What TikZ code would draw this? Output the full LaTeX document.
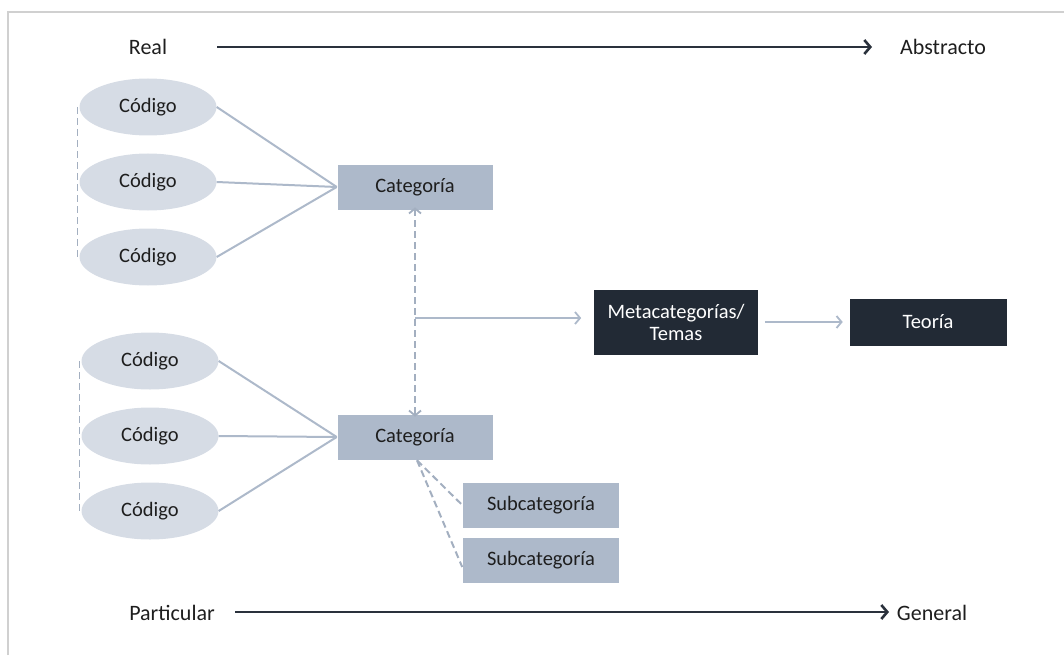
\documentclass[tikz,border=0pt]{standalone}
\usepackage{fontspec}
\setmainfont{Carlito}
\usetikzlibrary{arrows.meta,shapes.geometric}

\definecolor{framegray}{HTML}{D0D0D0}
\definecolor{codefill}{HTML}{D6DCE5}
\definecolor{catfill}{HTML}{ADB9CA}
\definecolor{darkbox}{HTML}{222A35}
\definecolor{axisline}{HTML}{2A313C}
\definecolor{linkline}{HTML}{ADB9CA}
\definecolor{dashline}{HTML}{A3AFC0}
\definecolor{txt}{HTML}{1E1E1E}

\tikzset{
  lbl/.style={font=\fontsize{22}{26}\selectfont, text=txt, inner sep=0pt},
  boxfont/.style={font=\fontsize{20.5}{24}\selectfont},
  codenode/.style={ellipse, fill=codefill, minimum width=137pt, minimum height=57pt,
    inner sep=0pt, boxfont, text=txt},
  catbox/.style={rectangle, fill=catfill, draw=white, line width=0.6pt,
    minimum width=156pt, minimum height=46pt, inner sep=0pt, boxfont, text=txt},
  darkbox/.style={rectangle, fill=darkbox, draw=white, line width=0.6pt,
    inner sep=0pt, boxfont, text=white, align=center},
  axis/.style={draw=axisline, line width=2.8pt, -{Straight Barb[length=6pt,width=14pt,line width=2.6pt]}},
  link/.style={draw=linkline, line width=2pt},
  dlink/.style={draw=dashline, line width=2pt, dash pattern=on 7pt off 4pt},
  tip/.style={-{Straight Barb[length=5pt,width=12pt,line width=1.8pt]}},
}

\begin{document}
\begin{tikzpicture}[x=1pt,y=-1pt]
  \useasboundingbox (0,0) rectangle (1064,655);
  % page frame
  \draw[framegray, line width=1.2pt] (8,655) -- (8,12) -- (1064,12);

  % axis labels and arrows
  \node[lbl] (real) at (148,47) {Real};
  \node[lbl] (abstracto) at (943,47) {Abstracto};
  \coordinate (ra) at (217,47);
  \coordinate (rb) at (872,47);
  \draw[axis] (ra) -- (rb);

  \node[lbl] (particular) at (172,613) {Particular};
  \node[lbl] (general) at (932,613) {General};
  \coordinate (pa) at (235,612);
  \coordinate (pb) at (889,612);
  \draw[axis] (pa) -- (pb);

  % upper group of codes
  \node[codenode] (c1) at (148,107) {Código};
  \node[codenode] (c2) at (148,182) {Código};
  \node[codenode] (c3) at (148,257) {Código};
  \node[catbox] (cat1) at (415,187) {Categoría};

  % lower group of codes
  \node[codenode] (c4) at (150,361) {Código};
  \node[codenode] (c5) at (150,436) {Código};
  \node[codenode] (c6) at (150,511) {Código};
  \node[catbox] (cat2) at (415,437) {Categoría};

  % subcategories
  \node[catbox, minimum width=157pt] (sub1) at (541,505) {Subcategoría};
  \node[catbox, minimum width=157pt] (sub2) at (541,560) {Subcategoría};

  % meta level
  \node[darkbox, minimum width=165pt, minimum height=66pt] (meta) at (676,322) {Metacategorías/\\[-2pt]Temas};
  \node[darkbox, minimum width=158pt, minimum height=48pt] (teoria) at (928,322) {Teoría};

  % code-to-category links
  \foreach \c in {c1,c2,c3} \draw[link] (\c.east) -- (cat1.west);
  \foreach \c in {c4,c5,c6} \draw[link] (\c.east) -- (cat2.west);

  % dashed brackets joining each group of codes
  \draw[dlink, line width=1.6pt] ([xshift=-2pt]c1.west) -- ([xshift=-2pt]c3.west);
  \draw[dlink, line width=1.6pt] ([xshift=-2pt]c4.west) -- ([xshift=-2pt]c6.west);

  % dashed two-way link between categories
  \draw[dlink, {Straight Barb[length=5pt,width=12pt,line width=1.8pt]}-{Straight Barb[length=5pt,width=12pt,line width=1.8pt]}]
    ([yshift=3pt]cat1.south) -- ([yshift=-3pt]cat2.north);

  % from the category pair to the meta level
  \coordinate (junc) at (415,318);
  \draw[link, tip, shorten >=12pt] (junc) -- (junc -| meta.west);
  \draw[link, tip, shorten <=6pt, shorten >=6pt] (meta.east |- teoria.west) -- (teoria.west);

  % dashed links to subcategories
  \draw[dlink] ([xshift=2pt]cat2.south) -- (sub1.west);
  \draw[dlink] ([xshift=2pt]cat2.south) -- ([yshift=-7pt]sub2.west);
\end{tikzpicture}
\end{document}
